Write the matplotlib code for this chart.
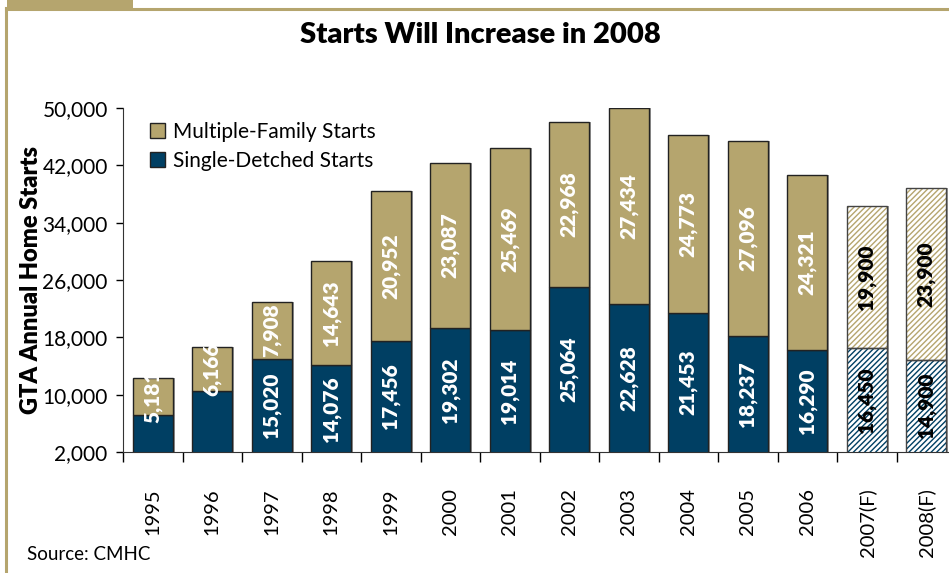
import matplotlib.pyplot as plt
import numpy as np
from matplotlib.patches import Rectangle
from matplotlib.lines import Line2D

plt.rcParams['font.family'] = ['Lato', 'DejaVu Sans']

# dados
anos = ['1995', '1996', '1997', '1998', '1999', '2000', '2001', '2002',
        '2003', '2004', '2005', '2006', '2007(F)', '2008(F)']
single = [7190, 10480, 15020, 14076, 17456, 19302, 19014, 25064,
          22628, 21453, 18237, 16290, 16450, 14900]
multi = [5181, 6166, 7908, 14643, 20952, 23087, 25469, 22968,
         27434, 24773, 27096, 24321, 19900, 23900]
single_lbl = ['', '', '15,020', '14,076', '17,456', '19,302', '19,014', '25,064',
              '22,628', '21,453', '18,237', '16,290', '16,450', '14,900']
multi_lbl = ['5,181', '6,166', '7,908', '14,643', '20,952', '23,087', '25,469',
             '22,968', '27,434', '24,773', '27,096', '24,321', '19,900', '23,900']
forecast = [False] * 12 + [True, True]
yticks = [2000, 10000, 18000, 26000, 34000, 42000, 50000]

tan = '#B5A56E'
navy = '#003F63'
ymin = 2000

fig = plt.figure(figsize=(9.49, 5.73), dpi=100)

# moldura
fig.add_artist(Rectangle((7 / 949, 1 - 8 / 573), 126 / 949, 8 / 573,
                         transform=fig.transFigure, color=tan, lw=0))
fig.add_artist(Line2D([6 / 949, 1], [1 - 8.5 / 573, 1 - 8.5 / 573],
                      transform=fig.transFigure, color=tan, lw=2.2))
fig.add_artist(Line2D([6 / 949, 6 / 949], [0, 1 - 8 / 573],
                      transform=fig.transFigure, color=tan, lw=2.2))

ax = fig.add_axes([123 / 949, 121 / 573, 833 / 949, 344 / 573])
x = np.arange(len(anos))
w = 0.67

for i in x:
    top = single[i] + multi[i]
    # sombra
    ax.bar(i + 0.035, top - 280, w, bottom=280, color='#9a9a9a', lw=0, zorder=1)
    if forecast[i]:
        ax.bar(i, single[i], w, color='white', edgecolor=navy, hatch='//////',
               lw=0, zorder=2)
        ax.bar(i, multi[i], w, bottom=single[i], color='white', edgecolor=tan,
               hatch='//////', lw=0, zorder=2)
        ax.bar(i, single[i], w, fill=False, edgecolor='#444444', lw=1, zorder=3)
        ax.bar(i, multi[i], w, bottom=single[i], fill=False, edgecolor='#444444',
               lw=1, zorder=3)
        tc = 'black'
    else:
        ax.bar(i, single[i], w, color=navy, edgecolor='#222222', lw=1, zorder=2)
        ax.bar(i, multi[i], w, bottom=single[i], color=tan, edgecolor='#222222',
               lw=1, zorder=2)
        tc = 'white'
    if single_lbl[i]:
        ax.text(i, (ymin + single[i]) / 2, single_lbl[i], rotation=90, ha='center',
                va='center', color=tc, fontsize=15, fontweight='heavy', zorder=4)
    ax.text(i, single[i] + multi[i] / 2, multi_lbl[i], rotation=90, ha='center',
            va='center', color=tc, fontsize=15, fontweight='heavy', zorder=4)

ax.set_xlim(-0.5, len(anos) - 0.5)
ax.set_ylim(ymin, 50000)
ax.set_yticks(yticks)
ax.set_yticklabels(['{:,}'.format(v) for v in yticks], fontsize=15)
ax.set_xticks(x)
ax.set_xticklabels(anos, rotation=90, fontsize=14.5)
ax.set_xticks(np.arange(len(anos) + 1) - 0.5, minor=True)
ax.tick_params(axis='x', which='major', length=0, pad=26)
ax.tick_params(axis='x', which='minor', length=7, direction='out', width=1)
ax.tick_params(axis='y', length=5, direction='out', width=1, pad=6)
for s in ['top', 'right']:
    ax.spines[s].set_visible(False)
for s in ['left', 'bottom']:
    ax.spines[s].set_color('#333333')

ax.set_ylabel('GTA Annual Home Starts', fontsize=17, fontweight='heavy', labelpad=0)

fig.text(480 / 949, 1 - 35 / 573, 'Starts Will Increase in 2008', ha='center',
         va='center', fontsize=21, fontweight='heavy')
fig.text(27 / 949, 1 - 555 / 573, 'Source: CMHC', ha='left', va='center', fontsize=13.5)

handles = [Rectangle((0, 0), 1, 1, fc=tan, ec='#222222', lw=1),
           Rectangle((0, 0), 1, 1, fc=navy, ec='#222222', lw=1)]
ax.legend(handles, ['Multiple-Family Starts', 'Single-Detched Starts'],
          loc='upper left', bbox_to_anchor=(0.01, 1.015), frameon=False,
          fontsize=15, handlelength=0.7, handleheight=0.7, handletextpad=0.4,
          labelspacing=0.45)

fig.savefig('out.png', dpi=100)
